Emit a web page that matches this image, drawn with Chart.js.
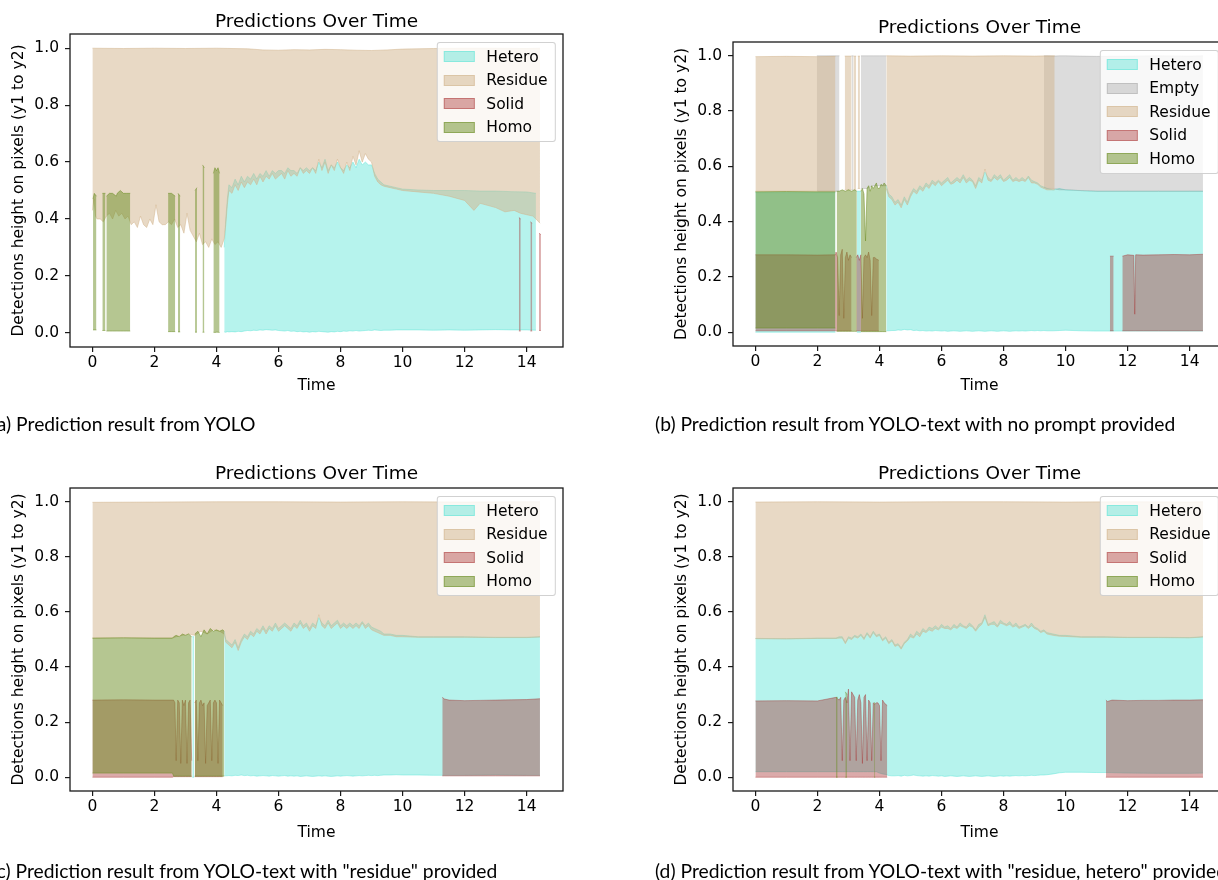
<!DOCTYPE html>
<html>
<head>
<meta charset="utf-8">
<script src="https://cdn.jsdelivr.net/npm/chart.js@4.4.1/dist/chart.umd.min.js"></script>
<style>
  body{margin:0;width:1218px;height:880px;background:#fff;overflow:hidden;position:relative;font-family:"DejaVu Sans",sans-serif}
  canvas{position:absolute}
  .ttl{position:absolute;transform:translate(-50%,-50%);font-size:18.5px;white-space:nowrap;color:#000}
  .cap{position:absolute;transform:translateY(-50%);font-family:Lato,sans-serif;font-size:19.3px;white-space:nowrap;color:#000}
  .leg{position:absolute;transform:translateX(-100%);background:rgba(255,255,255,0.8);border:1px solid rgba(204,204,204,0.9);border-radius:3px;padding:6px 7px 6px 6px;font-size:15.5px}
  .leg .row{display:flex;align-items:center;height:16px;margin-bottom:7.5px;white-space:nowrap}
  .leg .row:last-child{margin-bottom:0}
  .leg .sw{width:31px;height:11px;box-sizing:border-box;border:1px solid;margin-right:12px}
</style>
</head>
<body>
<script>
// axis ticks
const xTicks = [0, 2, 4, 6, 8, 10, 12, 14];
const yTicks = [0.0, 0.2, 0.4, 0.6, 0.8, 1.0];

// shared time grid of the busy middle part (s)
const midT = [4.5,4.6,4.7,4.8,4.9,5.0,5.1,5.2,5.3,5.4,5.5,5.6,5.7,5.8,5.9,6.0,6.1,6.2,6.3,6.4,6.5,6.6,6.7,6.8,6.9,7.0,7.1,7.2,7.3,7.4,7.5,7.6,7.7,7.8,7.9,8.0,8.1,8.2,8.3,8.4,8.5,8.6,8.7,8.8,8.9,9.0,9.1,9.2,9.3,9.4];

// ---------- (a) YOLO ----------
const aHeteroT = [4.25,4.30,4.35,4.40, ...midT, 9.6,9.8,10.0,10.5,11.0,11.5,12.0,12.5,13.0,13.5,14.0,14.3];
const aHeteroHi = [0.30,0.40,0.47,0.52,
  0.51,0.54,0.52,0.55,0.53,0.55,0.54,0.56,0.54,0.56,
  0.55,0.57,0.55,0.57,0.56,0.57,0.57,0.56,0.58,0.57,
  0.57,0.56,0.58,0.57,0.58,0.57,0.58,0.57,0.60,0.58,
  0.61,0.57,0.59,0.58,0.60,0.58,0.57,0.59,0.58,0.60,
  0.58,0.61,0.59,0.60,0.59,0.59,0.56,0.54,0.53,0.52,
  0.515,0.51,0.505,0.502,0.50,0.50,0.50,0.498,0.498,0.496,0.495,0.49];
const aHeteroLo = [0.003,0.002,0.004,0.003,
  0.004,0.003,0.005,0.004,0.006,0.008,0.007,0.009,0.008,0.010,
  0.009,0.011,0.010,0.009,0.010,0.008,0.007,0.006,0.008,0.005,
  0.006,0.004,0.005,0.003,0.004,0.002,0.004,0.003,0.005,0.004,
  0.003,0.002,0.004,0.003,0.005,0.004,0.006,0.005,0.007,0.006,
  0.008,0.006,0.007,0.008,0.009,0.008,0.010,0.009,0.008,0.009,
  0.009,0.010,0.010,0.010,0.009,0.010,0.009,0.010,0.011,0.010,0.010,0.009];

const aResidueLoT = [0.00,0.05,0.10,0.15,0.25,0.35,0.45,0.55,0.65,0.75,0.85,0.95,1.05,1.15,1.25,1.35,1.45,1.55,1.65,1.75,1.85,1.95,2.05,2.15,2.25,2.35,2.45,2.55,2.65,2.75,2.85,2.95,3.05,3.15,3.25,3.35,3.45,3.55,3.65,3.75,3.85,3.95,4.05,4.15,4.25,
  4.30,4.35,4.40, ...midT, 9.6,9.8,10.0,10.5,11.0,11.5,12.0,12.3,12.5,13.0,13.3,13.6,13.8,14.0,14.2,14.3,14.43];
const aResidueLo = [0.43,0.47,0.41,0.40,0.40,0.39,0.41,0.42,0.40,0.43,0.41,0.42,0.40,0.41,0.38,0.39,0.37,0.41,0.38,0.37,0.40,0.38,0.45,0.39,0.38,0.38,0.39,0.38,0.40,0.37,0.38,0.35,0.42,0.36,0.34,0.32,0.35,0.31,0.32,0.30,0.33,0.31,0.32,0.30,0.33,
  0.38,0.45,0.50,
  0.49,0.52,0.50,0.53,0.51,0.53,0.52,0.54,0.52,0.55,
  0.53,0.55,0.54,0.56,0.54,0.55,0.56,0.54,0.57,0.55,
  0.56,0.55,0.58,0.56,0.57,0.56,0.58,0.56,0.61,0.57,
  0.60,0.56,0.59,0.57,0.61,0.58,0.56,0.60,0.57,0.62,
  0.59,0.64,0.60,0.63,0.61,0.60,0.55,0.53,0.52,0.515,
  0.51,0.505,0.50,0.495,0.49,0.48,0.465,0.43,0.455,0.44,0.425,0.43,0.42,0.415,0.41,0.40,0.385];
const aResidueHiT = [0,1,2,3,4,5,5.5,6,6.5,7,7.5,8,8.5,9,9.5,10,11,12,13,14,14.43];
const aResidueHi = [1.0,0.999,1.0,0.999,1.0,0.998,0.994,0.993,0.995,0.994,0.996,0.995,0.993,0.992,0.994,0.997,0.999,1.0,1.0,0.999,1.0];

const aSolidT = [13.75,13.81,13.95,14.12,14.18,14.3,14.40,14.46];
const aSolidHi = [0.405,0.40,null,0.39,0.385,null,0.35,0.345];
const aSolidLo = [0.006,0.006,null,0.006,0.006,null,0.008,0.008];

const aHomoT = [0.02,0.06,0.13,0.2,0.32,0.42,0.44,0.45,0.55,0.65,0.77,0.80,0.90,1.00,1.10,1.22,1.8,2.44,2.55,2.67,2.7,2.76,2.83,3.0,3.31,3.37,3.45,3.55,3.61,3.7,3.90,3.95,4.00,4.05,4.10];
const aHomoHi = [0.47,0.49,0.48,null,0.49,0.49,null,0.48,0.49,0.49,0.48,0.49,0.50,0.49,0.49,0.49,null,0.49,0.49,0.48,null,0.49,0.48,null,0.50,0.51,null,0.59,0.58,null,0.56,0.58,0.57,0.58,0.56];
const aHomoLo = [0.01,0.01,0.01,null,0.008,0.008,null,0.006,0.006,0.006,0.006,0.006,0.006,0.006,0.006,0.006,null,0.004,0.004,0.004,null,0.003,0.003,null,0.002,0.002,null,0.002,0.002,null,0.002,0.001,0.002,0.002,0.001];

// ---------- (b) YOLO-text, no prompt ----------
const bHeteroT = [0.00,2.58,2.9,3.27,3.40,3.8,4.22,4.30,4.40, ...midT, 9.6,9.8,10.0,10.5,11.0,12.0,13.0,14.0,14.43];
const bHeteroHi = [0.505,0.505,null,0.51,0.51,null,0.53,0.50,0.49,
  0.47,0.48,0.46,0.49,0.47,0.50,0.52,0.51,0.53,0.52,
  0.54,0.53,0.55,0.54,0.55,0.54,0.55,0.56,0.54,0.55,
  0.56,0.55,0.57,0.55,0.56,0.55,0.53,0.56,0.55,0.58,
  0.56,0.55,0.57,0.56,0.57,0.55,0.56,0.57,0.55,0.56,
  0.55,0.56,0.55,0.565,0.55,0.545,0.54,0.53,0.525,0.52,
  0.515,0.52,0.515,0.512,0.51,0.51,0.51,0.51,0.51];
const bHeteroLo = [0.0,0.0,null,0.0,0.0,null,0.005,0.005,0.006,
  0.006,0.008,0.007,0.010,0.008,0.009,0.006,0.007,0.005,0.006,
  0.004,0.005,0.004,0.006,0.005,0.004,0.005,0.003,0.004,0.005,
  0.004,0.003,0.004,0.005,0.004,0.003,0.004,0.005,0.004,0.003,
  0.004,0.005,0.004,0.003,0.004,0.005,0.004,0.003,0.004,0.005,
  0.004,0.005,0.004,0.005,0.006,0.005,0.006,0.005,0.006,0.005,
  0.005,0.006,0.007,0.005,0.004,0.004,0.004,0.004,0.004];

const bEmptyT = [1.98,2.71,2.8,3.10,3.16,3.3,3.40,3.60,3.80,4.00,4.22,6.0,9.30,9.40,9.60,9.80,10.0,11.0,12.0,13.0,14.0,14.43];
const bEmptyLo = [0.51,0.51,null,0.515,0.515,null,0.52,0.52,0.53,0.53,0.53,null,0.525,0.52,0.52,0.515,0.515,0.51,0.51,0.51,0.51,0.51];
const bEmptyHi = [1.0,1.0,null,1.0,1.0,null,1.0,1.0,1.0,1.0,1.0,null,1.0,1.0,0.999,1.0,1.0,0.998,0.999,1.0,0.999,1.0];

const bResidueLoT = [0.00,1.0,2.0,2.58,2.7,2.88,3.10,3.13,3.16,3.25,3.27,3.30,3.37,3.8,4.22,4.30,4.40, ...midT, 9.5,9.65];
const bResidueLo = [0.51,0.51,0.51,0.51,null,0.515,0.515,null,0.515,0.515,null,0.52,0.52,null,0.52,0.49,0.48,
  0.46,0.47,0.45,0.48,0.46,0.49,0.51,0.50,0.52,0.51,
  0.53,0.52,0.54,0.53,0.545,0.53,0.54,0.55,0.535,0.54,
  0.55,0.54,0.56,0.54,0.55,0.545,0.52,0.55,0.54,0.59,
  0.55,0.545,0.56,0.55,0.56,0.545,0.55,0.56,0.545,0.55,
  0.545,0.55,0.545,0.56,0.54,0.54,0.535,0.525,0.52,0.515,
  0.515,0.515];
const bResidueHiT = [0.00,1.0,2.0,2.58,2.7,2.88,3.10,3.13,3.16,3.25,3.27,3.30,3.37,3.8,4.22,5.0,6.0,7.0,8.0,9.0,9.65];
const bResidueHi = [0.997,0.998,0.997,0.998,null,0.999,0.999,null,0.999,0.999,null,0.999,0.999,null,1.0,0.999,1.0,0.999,1.0,0.999,1.0];

const bSolidT = [0.00,1.00,2.00,2.58,2.60,2.65,2.70,2.75,2.80,2.85,2.90,2.95,3.00,3.05,3.10,3.17,
  3.25,3.30,3.35,3.40,3.45,3.50,3.55,3.60,3.65,3.70,3.75,3.80,3.85,3.90,3.98,7.0,
  11.43,11.55,11.7,11.83,12.00,12.20,12.23,12.26,12.50,13.00,13.50,14.00,14.43];
const bSolidHi = [0.28,0.28,0.279,0.28,0.29,0.27,0.06,0.28,0.30,0.05,0.27,0.29,0.26,0.28,0.27,null,
  0.27,0.28,0.26,0.28,0.05,0.27,0.28,0.27,0.29,0.26,0.06,0.27,0.27,0.265,0.26,null,
  0.275,0.275,null,0.275,0.28,0.278,0.065,0.28,0.279,0.28,0.281,0.28,0.282];
const bSolidLo = [0.005,0.005,0.005,0.005,0.005,0.005,0.005,0.005,0.005,0.005,0.005,0.005,0.005,0.005,0.005,null,
  0.005,0.005,0.005,0.005,0.005,0.005,0.005,0.005,0.005,0.005,0.005,0.005,0.005,0.005,0.005,null,
  0.005,0.005,null,0.005,0.005,0.005,0.005,0.005,0.005,0.005,0.005,0.005,0.005];

const bHomoT = [0.00,1.00,2.00,2.58,2.60,2.62,2.70,2.80,2.90,3.00,3.10,3.20,3.27,3.33,
  3.40,3.45,3.50,3.55,3.60,3.65,3.70,3.75,3.80,3.85,3.90,3.95,4.00,4.05,4.10,4.15,4.22];
const bHomoHi = [0.508,0.509,0.508,0.508,null,0.51,0.51,0.515,0.51,0.515,0.51,0.515,0.51,null,
  0.51,0.52,0.50,0.33,0.52,0.53,0.51,0.53,0.52,0.53,0.54,0.52,0.52,0.535,0.53,0.54,0.53];
const bHomoLo = [0.015,0.015,0.015,0.015,null,0.003,0.003,0.003,0.003,0.003,0.003,0.003,0.003,null,
  0.002,0.002,0.002,0.002,0.002,0.002,0.002,0.002,0.002,0.002,0.002,0.002,0.002,0.002,0.002,0.002,0.002];

// ---------- (c) YOLO-text, "residue" ----------
const cHeteroT = [3.22,3.28,3.7,4.25,4.30,4.40, ...midT, 9.6,9.8,10.0,10.5,11.0,12.0,13.0,14.0,14.43];
const cHeteroHi = [0.51,0.51,null,0.53,0.50,0.49,
  0.48,0.50,0.47,0.50,0.52,0.51,0.53,0.52,0.54,0.53,
  0.55,0.53,0.55,0.54,0.56,0.54,0.55,0.56,0.55,0.54,
  0.56,0.55,0.57,0.55,0.56,0.54,0.56,0.55,0.58,0.56,
  0.55,0.57,0.55,0.56,0.57,0.55,0.56,0.55,0.56,0.55,
  0.56,0.55,0.565,0.55,0.56,0.545,0.54,0.535,0.53,0.52,
  0.52,0.515,0.515,0.51,0.51,0.51,0.508,0.508,0.51];
const cHeteroLo = [0.0,0.0,null,0.006,0.005,0.006,
  0.005,0.007,0.006,0.008,0.006,0.007,0.005,0.006,0.004,0.005,
  0.006,0.005,0.004,0.006,0.005,0.004,0.005,0.006,0.004,0.005,
  0.004,0.005,0.003,0.004,0.005,0.004,0.003,0.004,0.005,0.004,
  0.005,0.004,0.003,0.004,0.005,0.004,0.005,0.006,0.005,0.004,
  0.005,0.006,0.005,0.006,0.007,0.006,0.007,0.006,0.007,0.008,
  0.008,0.009,0.008,0.008,0.007,0.007,0.008,0.007,0.007];

const cResidueLoT = [0.00,1.00,2.00,2.58,2.70,2.90,3.10,3.30,3.50,3.70,3.90,4.10,4.25,4.30,4.40, ...midT, 9.6,9.8,10.0,10.5,11.0,12.0,13.0,14.0,14.43];
const cResidueLo = [0.505,0.507,0.505,0.505,0.51,0.515,0.52,0.515,0.53,0.52,0.535,0.53,0.52,0.49,0.48,
  0.47,0.49,0.46,0.49,0.51,0.50,0.52,0.51,0.53,0.52,
  0.54,0.52,0.54,0.53,0.55,0.53,0.54,0.55,0.54,0.53,
  0.55,0.54,0.56,0.54,0.55,0.53,0.55,0.54,0.59,0.55,
  0.54,0.56,0.54,0.55,0.56,0.54,0.55,0.54,0.55,0.54,
  0.55,0.54,0.56,0.54,0.55,0.535,0.53,0.525,0.52,0.515,
  0.515,0.51,0.51,0.508,0.508,0.508,0.507,0.507,0.509];
const cResidueHiT = [0,2,4,6,8,10,12,14,14.43];
const cResidueHi = [0.998,0.999,1.0,1.0,0.999,1.0,0.999,1.0,1.0];

const cSolidT = [0.00,1.00,2.00,2.58,2.62,2.66,2.70,2.75,2.80,2.85,2.90,2.95,3.00,3.05,3.10,3.15,3.20,3.25,
  3.30,3.35,3.40,3.45,3.50,3.55,3.60,3.65,3.70,3.75,3.80,3.85,3.90,3.95,4.00,4.05,4.10,4.15,4.20,7.0,
  11.28,11.35,11.50,12.00,12.50,13.00,13.50,14.00,14.43];
const cSolidHi = [0.28,0.281,0.28,0.28,0.28,0.27,0.06,0.28,0.27,0.05,0.28,0.26,0.28,0.05,0.27,0.28,0.06,null,
  0.27,0.28,0.06,0.27,0.28,0.26,0.27,0.05,0.26,0.27,0.28,0.06,0.27,0.28,0.27,0.05,0.28,0.27,0.26,null,
  0.29,0.284,0.28,0.278,0.279,0.28,0.281,0.282,0.285];
const cSolidLo = [0.0,0.0,0.0,0.0,0.002,0.002,0.002,0.002,0.002,0.002,0.002,0.002,0.002,0.002,0.002,0.002,0.002,null,
  0.002,0.002,0.002,0.002,0.002,0.002,0.002,0.002,0.002,0.002,0.002,0.002,0.002,0.002,0.002,0.002,0.002,0.002,0.002,null,
  0.005,0.005,0.005,0.005,0.005,0.005,0.005,0.005,0.005];

const cHomoT = [0.00,1.00,2.00,2.58,2.62,2.70,2.80,2.90,3.00,3.10,3.20,3.25,3.30,3.40,3.50,3.60,3.70,3.80,3.90,4.00,4.10,4.20,4.25];
const cHomoHi = [0.505,0.506,0.505,0.505,0.51,0.515,0.51,0.52,0.515,0.52,0.51,null,0.52,0.53,0.51,0.535,0.52,0.54,0.53,0.535,0.53,0.535,0.53];
const cHomoLo = [0.015,0.015,0.015,0.015,0.004,0.004,0.004,0.004,0.004,0.004,0.004,null,0.004,0.004,0.004,0.004,0.004,0.004,0.004,0.004,0.004,0.004,0.004];

// ---------- (d) YOLO-text, "residue, hetero" ----------
const dHeteroT = [0.00,1.00,2.00,2.60,2.70,2.80,2.90,3.00,3.10,3.20,3.30,3.40,3.50,3.60,3.70,3.80,3.90,4.00,4.10,4.20,4.30,4.40,
  ...midT, 9.6,9.8,10.0,10.5,11.0,11.3,12.0,13.0,14.0,14.43];
const dHeteroHi = [0.504,0.503,0.505,0.505,0.51,0.51,0.49,0.51,0.505,0.515,0.51,0.52,0.505,0.525,0.51,0.53,0.515,0.52,0.50,0.51,0.49,0.50,
  0.48,0.485,0.47,0.49,0.50,0.52,0.51,0.53,0.52,0.54,
  0.53,0.545,0.54,0.55,0.54,0.555,0.545,0.55,0.54,0.555,
  0.545,0.56,0.55,0.545,0.56,0.55,0.535,0.555,0.56,0.59,
  0.555,0.56,0.565,0.55,0.57,0.56,0.555,0.565,0.55,0.56,
  0.545,0.55,0.555,0.545,0.56,0.545,0.54,0.53,0.535,0.525,
  0.52,0.515,0.515,0.51,0.51,0.51,0.508,0.508,0.507,0.51];
const dHeteroLo = [0.02,0.02,0.02,0.02,0.02,0.02,0.02,0.02,0.02,0.02,0.02,0.02,0.02,0.02,0.02,0.02,0.02,0.015,0.012,0.01,0.006,0.005,
  0.005,0.006,0.004,0.007,0.005,0.006,0.008,0.006,0.005,0.004,
  0.005,0.004,0.006,0.005,0.004,0.005,0.003,0.004,0.005,0.004,
  0.003,0.004,0.005,0.004,0.003,0.004,0.005,0.004,0.003,0.004,
  0.005,0.004,0.003,0.004,0.005,0.004,0.005,0.004,0.005,0.006,
  0.005,0.006,0.005,0.006,0.007,0.006,0.007,0.008,0.008,0.009,
  0.012,0.016,0.018,0.018,0.017,0.017,0.015,0.014,0.014,0.015];

const dResidueLoT = dHeteroT;
const dResidueLo = [0.503,0.502,0.504,0.504,0.505,0.505,0.485,0.505,0.50,0.51,0.505,0.515,0.50,0.52,0.505,0.525,0.51,0.515,0.495,0.505,0.485,0.495,
  0.475,0.48,0.465,0.485,0.495,0.51,0.505,0.52,0.51,0.53,
  0.525,0.535,0.53,0.54,0.535,0.545,0.54,0.54,0.535,0.545,
  0.54,0.55,0.545,0.54,0.55,0.545,0.53,0.545,0.555,0.58,
  0.55,0.555,0.555,0.545,0.56,0.555,0.55,0.555,0.545,0.55,
  0.54,0.545,0.55,0.54,0.55,0.54,0.535,0.525,0.53,0.52,
  0.515,0.512,0.511,0.508,0.508,0.508,0.507,0.507,0.506,0.509];
const dResidueHiT = [0,2,4,6,8,10,12,14,14.43];
const dResidueHi = [0.999,1.0,0.999,1.0,1.0,0.999,1.0,0.999,1.0];

const dSolidT = [0.00,1.00,2.00,2.60,2.65,2.70,2.75,2.80,2.85,2.90,2.95,3.00,3.05,3.10,3.15,3.20,3.25,3.30,3.35,3.40,3.45,3.50,3.55,3.60,3.65,3.70,3.75,3.80,3.85,3.90,3.95,4.00,4.05,4.10,4.15,4.25,7.0,
  11.30,11.35,11.50,12.00,12.50,13.00,13.50,14.00,14.43];
const dSolidHi = [0.277,0.278,0.277,0.29,0.285,0.28,0.29,0.06,0.28,0.29,0.27,0.32,0.06,0.31,0.30,0.29,0.06,0.28,0.30,0.27,0.05,0.29,0.30,0.06,0.28,0.27,0.06,0.27,0.265,0.27,0.27,0.26,0.06,0.28,0.27,0.26,null,
  0.28,0.275,0.28,0.278,0.279,0.279,0.28,0.28,0.281];
const dSolidLo = [0.0,0.0,0.0,0.0,0.0,0.0,0.0,0.0,0.0,0.0,0.0,0.0,0.0,0.0,0.0,0.0,0.0,0.0,0.0,0.0,0.0,0.0,0.0,0.0,0.0,0.0,0.0,0.0,0.0,0.0,0.0,0.0,0.0,0.0,0.0,0.0,null,
  0.0,0.0,0.0,0.0,0.0,0.0,0.0,0.0,0.0];

const dHomoT = [2.60,2.65,2.75,2.90,2.95,3.3,3.83,3.86];
const dHomoHi = [0.29,0.29,null,0.31,0.30,null,0.27,0.27];
const dHomoLo = [0.0,0.0,null,0.0,0.0,null,0.0,0.0];

// ---------- styling ----------
const COLORS = {
  Hetero: 'rgba(64,224,208,0.38)',
  Empty: 'rgba(128,128,128,0.28)',
  Residue: 'rgba(210,180,140,0.5)',
  Solid: 'rgba(165,42,42,0.4)',
  Homo: 'rgba(107,142,35,0.5)'
};
const X_MIN = -0.7225, X_MAX = 15.1725;
const FONT = {family: 'DejaVu Sans', size: 15.5};
const LH = FONT.size * 1.2;

const panels = [
  {x:0, y:0, w:609, h:440, area:{l:70, r:563, t:34, b:347}, titleY:20, xlabY:386, capY:423,
   caption:'(a) Prediction result from YOLO',
   bands:[['Hetero',aHeteroT,aHeteroLo,aHeteroT,aHeteroHi],['Residue',aResidueLoT,aResidueLo,aResidueHiT,aResidueHi],
          ['Solid',aSolidT,aSolidLo,aSolidT,aSolidHi],['Homo',aHomoT,aHomoLo,aHomoT,aHomoHi]]},
  {x:609, y:0, w:640, h:440, area:{l:124, r:617, t:42, b:346}, titleY:26, xlabY:386, capY:423,
   caption:'(b) Prediction result from YOLO-text with no prompt provided',
   bands:[['Hetero',bHeteroT,bHeteroLo,bHeteroT,bHeteroHi],['Empty',bEmptyT,bEmptyLo,bEmptyT,bEmptyHi],
          ['Residue',bResidueLoT,bResidueLo,bResidueHiT,bResidueHi],['Solid',bSolidT,bSolidLo,bSolidT,bSolidHi],['Homo',bHomoT,bHomoLo,bHomoT,bHomoHi]]},
  {x:0, y:440, w:609, h:440, area:{l:70, r:563, t:48, b:351}, titleY:32, xlabY:393, capY:430,
   caption:'(c) Prediction result from YOLO-text with "residue" provided',
   bands:[['Hetero',cHeteroT,cHeteroLo,cHeteroT,cHeteroHi],['Residue',cResidueLoT,cResidueLo,cResidueHiT,cResidueHi],
          ['Solid',cSolidT,cSolidLo,cSolidT,cSolidHi],['Homo',cHomoT,cHomoLo,cHomoT,cHomoHi]]},
  {x:609, y:440, w:640, h:440, area:{l:124, r:617, t:48, b:351}, titleY:32, xlabY:393, capY:430,
   caption:'(d) Prediction result from YOLO-text with "residue, hetero" provided',
   bands:[['Hetero',dHeteroT,dHeteroLo,dHeteroT,dHeteroHi],['Residue',dResidueLoT,dResidueLo,dResidueHiT,dResidueHi],
          ['Solid',dSolidT,dSolidLo,dSolidT,dSolidHi],['Homo',dHomoT,dHomoLo,dHomoT,dHomoHi]]}
];

// black box round the axes (matplotlib spines)
const frame = {
  id: 'frame',
  afterDraw(c){
    const {ctx, chartArea:a} = c;
    ctx.save();
    ctx.strokeStyle = '#1a1a1a';
    ctx.lineWidth = 1.3;
    ctx.strokeRect(a.left, a.top, a.right - a.left, a.bottom - a.top);
    ctx.restore();
  }
};

function band([name, loT, lo, hiT, hi], order){
  const c = COLORS[name];
  const pts = (T, V) => T.map((t, i) => ({x: t, y: V[i]}));
  return [
    {label: name + ' y1', data: pts(loT, lo), borderColor: c, borderWidth: 1, fill: false, order},
    {label: name, data: pts(hiT, hi), borderColor: c, backgroundColor: c, borderWidth: 1, fill: '-1', order}
  ];
}

function addText(cls, txt, x, y){
  const d = document.createElement('div');
  d.className = cls; d.textContent = txt;
  d.style.left = x + 'px'; d.style.top = y + 'px';
  document.body.appendChild(d);
  return d;
}

panels.forEach(p => {
  const cv = document.createElement('canvas');
  cv.width = p.w; cv.height = p.h;
  cv.style.left = p.x + 'px'; cv.style.top = p.y + 'px';
  document.body.appendChild(cv);

  const datasets = [];
  p.bands.forEach((b, k) => datasets.push(...band(b, p.bands.length - k)));

  new Chart(cv, {
    type: 'line',
    data: {datasets},
    options: {
      responsive: false,
      animation: false,
      events: [],
      layout: {padding: {top: p.area.t, right: p.w - p.area.r, bottom: 0, left: 0}},
      elements: {point: {radius: 0}, line: {tension: 0}},
      plugins: {legend: {display: false}, tooltip: {enabled: false}},
      scales: {
        x: {
          type: 'linear', min: X_MIN, max: X_MAX,
          afterBuildTicks: s => { s.ticks = xTicks.map(v => ({value: v})); },
          afterFit: s => { s.height = p.h - p.area.b; },
          ticks: {font: FONT, color: '#000', padding: 2, maxRotation: 0, callback: v => String(v)},
          grid: {drawOnChartArea: false, tickLength: 5, color: '#1a1a1a', lineWidth: 1.2},
          border: {display: false},
          title: {display: true, text: 'Time', font: FONT, color: '#000', padding: {top: 0, bottom: p.h - p.xlabY - LH / 2}}
        },
        y: {
          type: 'linear', min: -0.05, max: 1.05,
          afterBuildTicks: s => { s.ticks = yTicks.map(v => ({value: v})); },
          afterFit: s => { s.width = p.area.l; },
          ticks: {font: FONT, color: '#000', padding: 6, callback: v => v.toFixed(1)},
          grid: {drawOnChartArea: false, tickLength: 5, color: '#1a1a1a', lineWidth: 1.2},
          border: {display: false},
          title: {display: true, text: 'Detections height on pixels (y1 to y2)', font: FONT, color: '#000',
                  padding: {top: p.area.l - 51 - LH / 2, bottom: 0}}
        }
      }
    },
    plugins: [frame]
  });

  addText('ttl', 'Predictions Over Time', p.x + (p.area.l + p.area.r) / 2, p.y + p.titleY);
  addText('cap', p.caption, p.x + p.area.l - 78, p.y + p.capY);

  // legend, upper right inside the axes
  const leg = document.createElement('div');
  leg.className = 'leg';
  leg.style.left = (p.x + p.area.r - 7.5) + 'px';
  leg.style.top = (p.y + p.area.t + 7.5) + 'px';
  p.bands.forEach(([name]) => {
    const row = document.createElement('div');
    row.className = 'row';
    const sw = document.createElement('span');
    sw.className = 'sw';
    sw.style.background = COLORS[name];
    sw.style.borderColor = COLORS[name];
    row.appendChild(sw);
    row.appendChild(document.createTextNode(name));
    leg.appendChild(row);
  });
  document.body.appendChild(leg);
});
</script>
</body>
</html>
